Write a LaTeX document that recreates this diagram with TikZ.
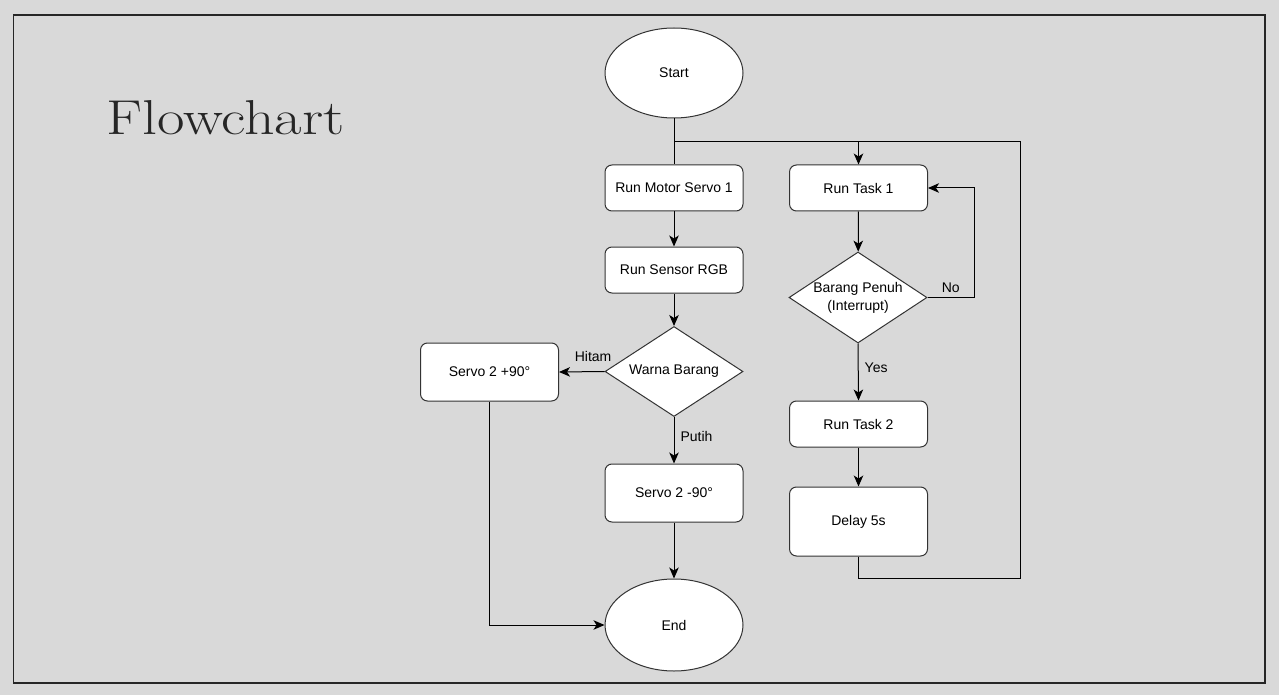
\documentclass[tikz,border=0pt]{standalone}
\usepackage{fontspec}
\setsansfont{Liberation Sans}
\usetikzlibrary{shapes.geometric,arrows.meta}
\definecolor{pagebg}{HTML}{D9D9D9}
\definecolor{edgegray}{HTML}{333333}
\definecolor{framegray}{HTML}{262626}
\tikzset{
	boxtext/.style={font=\sffamily\fontsize{14}{18}\selectfont},
	procbox/.style={boxtext, draw=edgegray, fill=white, line width=1pt, rounded corners=7pt,
		minimum width=138pt, minimum height=46pt, inner sep=0pt},
	termnode/.style={boxtext, ellipse, draw=edgegray, fill=white, line width=1pt,
		minimum width=138pt, minimum height=90pt, inner sep=0pt},
	decide/.style={boxtext, diamond, draw=edgegray, fill=white, line width=1pt, align=center,
		aspect=1.53, minimum width=138pt, minimum height=90pt, inner sep=0pt},
	flow/.style={draw, line width=1pt, -{Stealth[length=11pt,width=9.5pt,inset=3pt]}},
	link/.style={draw, line width=1pt},
	edgelabel/.style={boxtext, inner sep=1pt}
}
\begin{document}
\begin{tikzpicture}[x=1pt,y=-1pt]
	\fill[pagebg] (0,0) rectangle (1279,695);
	\useasboundingbox (0,0) rectangle (1279,695);
	\draw[framegray, line width=1.3pt] (13.5,15) rectangle (1265,683);
	\node[anchor=base west, inner sep=0pt, text=framegray,
		font=\fontsize{49}{56}\selectfont] (title) at (106,134.5)
		{\scalebox{1.22}[1]{Flowchart}};

	% left column
	\node[termnode] (start) at (674,73) {Start};
	\node[procbox] (motor) at (674,188) {Run Motor Servo 1};
	\node[procbox] (sensor) at (674,270) {Run Sensor RGB};
	\node[decide] (warna) at (674,371.5) {Warna Barang};
	\node[procbox, minimum height=58pt] (servoplus) at (489.5,372) {Servo 2 +90°};
	\node[procbox, minimum height=58pt] (servominus) at (674,493) {Servo 2 -90°};
	\node[termnode, minimum height=92pt] (end) at (674,625) {End};

	% right column
	\node[procbox] (task1) at (858.5,188) {Run Task 1};
	\node[decide, minimum height=91pt] (penuh) at (858,297.5) {Barang Penuh\\(Interrupt)};
	\node[procbox] (task2) at (858.5,424) {Run Task 2};
	\node[procbox, minimum height=69pt] (delay) at (858.5,521.5) {Delay 5s};

	\coordinate (split) at (674,142);
	\coordinate (loopR) at (1020,142);
	\coordinate (loopB) at (1020,578.5);
	\coordinate (noR) at (974,297.5);

	% connectors
	\draw[link] (start) -- (motor);
	\draw[flow] (split) -| (task1.north);
	\draw[flow] (motor) -- (sensor);
	\draw[flow] (sensor) -- (warna);
	\draw[flow] (warna.west) -- (servoplus.east)
		node[edgelabel, pos=0.25, above=8pt] {Hitam};
	\draw[flow] (warna.south) -- (servominus.north)
		node[edgelabel, pos=0.42, right=5pt] {Putih};
	\draw[flow] (servominus) -- (end);
	\draw[flow] (servoplus.south) |- (end.west);
	\draw[flow] (task1) -- (penuh);
	\draw[flow] (penuh.east) -- (noR)
		node[edgelabel, pos=0.5, above=3pt] {No} |- (task1.east);
	\draw[flow] (penuh.south) -- (task2.north)
		node[edgelabel, pos=0.42, right=5pt] {Yes};
	\draw[flow] (task2) -- (delay);
	\draw[link] (delay.south) |- (loopB) -- (loopR) -- (split);
\end{tikzpicture}
\end{document}
